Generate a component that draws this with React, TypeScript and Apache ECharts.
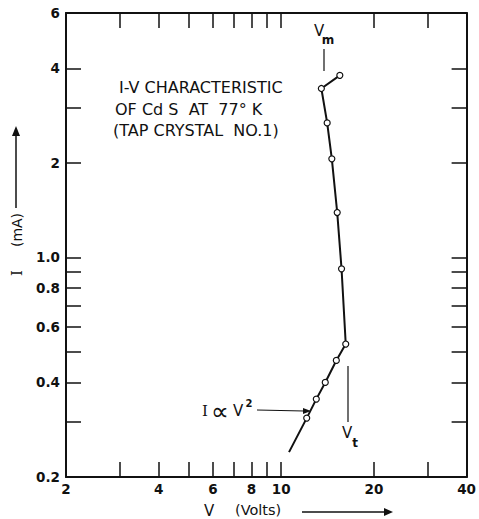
import React, { useEffect, useRef } from "react";
import * as echarts from "echarts";

const voltage = [15.5, 13.5, 14.1, 14.6, 15.2, 15.7, 16.2, 15.1, 13.9, 13.0, 12.1];
const current = [3.8, 3.45, 2.68, 2.06, 1.39, 0.92, 0.53, 0.47, 0.4, 0.354, 0.308];
const fitLineEnd = [10.6, 0.24];

const xTicks = [3, 4, 5, 6, 7, 8, 9, 10, 20, 30];
const xLabels = [2, 4, 6, 8, 10, 20, 40];
const yTicks = [0.3, 0.4, 0.5, 0.6, 0.7, 0.8, 0.9, 1, 2, 3, 4];
const yLabels = [0.2, 0.4, 0.6, 0.8, 1, 2, 4, 6];

const textLines = ["I-V CHARACTERISTIC", "OF Cd S  AT  77° K", "(TAP CRYSTAL  NO.1)"];

const FONT = "DejaVu Sans";
const INK = "#111";

export default function App() {
  const ref = useRef<HTMLDivElement>(null);
  useEffect(() => {
    if (!ref.current) return;
    const chart = echarts.init(ref.current, null, { renderer: "svg" });
    const labelStyle = { fontFamily: FONT, fontWeight: "bold" as const, fontSize: 13.5, color: INK };
    const axisCommon = (pos: string, ticks: number[], labels: number[] | null, min: number, max: number) => ({
      type: "log" as const,
      logBase: 10,
      min,
      max,
      position: pos,
      axisLine: { show: true, onZero: false, lineStyle: { color: INK, width: 2 } },
      axisTick: { show: true, inside: true, length: 15, customValues: ticks, lineStyle: { color: INK, width: 1.5 } },
      axisLabel: labels
        ? {
            show: true,
            customValues: labels,
            ...labelStyle,
            margin: pos === "bottom" ? 5 : 6,
            formatter: (v: number) => (Math.abs(v - 1) < 1e-9 ? "1.0" : String(v)),
          }
        : { show: false },
      splitLine: { show: false },
      minorTick: { show: false },
    });

    const seriesData: any[] = voltage.map((v, i) => [v, current[i]]);
    seriesData.push({ value: fitLineEnd, symbol: "none" });

    const txt = (x: number, y: number, text: string, font: string, align = "center", rotation = 0) => ({
      type: "text",
      x,
      y,
      rotation,
      style: { text, font, fill: INK, align, verticalAlign: "middle" },
    });

    const g: any[] = [];
    textLines.forEach((t, i) => {
      g.push(txt([119, 115, 113][i], [87, 109, 130][i], t, `16px "${FONT}"`, "left"));
    });
    // Vm marker
    g.push({ type: "line", shape: { x1: 324, y1: 49, x2: 324, y2: 71 }, style: { stroke: INK, lineWidth: 1.2 } });
    g.push(txt(319, 31, "V", `15px "${FONT}"`));
    g.push(txt(328, 40, "m", `bold 12px "${FONT}"`));
    // Vt marker
    g.push({ type: "line", shape: { x1: 348, y1: 366, x2: 348, y2: 422 }, style: { stroke: INK, lineWidth: 1.2 } });
    g.push(txt(347, 433, "V", `15px "${FONT}"`));
    g.push(txt(355, 443, "t", `bold 12px "${FONT}"`));
    // I ∝ V^2
    g.push(txt(205, 411, "I", `15px "DejaVu Serif"`));
    g.push(txt(220, 411, "∝", `25px "${FONT}"`));
    g.push(txt(238, 411, "V", `15px "${FONT}"`));
    g.push(txt(249, 403, "2", `bold 10px "${FONT}"`));
    g.push({ type: "line", shape: { x1: 257, y1: 410, x2: 304, y2: 411 }, style: { stroke: INK, lineWidth: 1.2 } });
    g.push({ type: "polygon", shape: { points: [[311, 411], [303, 408], [303, 414]] }, style: { fill: INK } });
    // X axis name
    g.push(txt(209, 511, "V", `15px "${FONT}"`));
    g.push(txt(235, 510, "(Volts)", `14.5px "${FONT}"`, "left"));
    g.push({ type: "line", shape: { x1: 302, y1: 512, x2: 386, y2: 512 }, style: { stroke: INK, lineWidth: 1.5 } });
    g.push({ type: "polygon", shape: { points: [[393, 512], [384, 508], [384, 516]] }, style: { fill: INK } });
    // Y axis name
    g.push(txt(17, 273, "I", `15px "DejaVu Serif"`, "center", Math.PI / 2));
    g.push(txt(17, 230, "(mA)", `14px "${FONT}"`, "center", Math.PI / 2));
    g.push({ type: "line", shape: { x1: 16, y1: 208, x2: 16, y2: 134 }, style: { stroke: INK, lineWidth: 1.5 } });
    g.push({ type: "polygon", shape: { points: [[16, 126], [12, 136], [20, 136]] }, style: { fill: INK } });

    chart.setOption({
      animation: false,
      backgroundColor: "#fff",
      grid: { left: 66, right: 7, top: 13, bottom: 42, containLabel: false },
      xAxis: [axisCommon("bottom", xTicks, xLabels, 2, 40), axisCommon("top", xTicks, null, 2, 40)],
      yAxis: [axisCommon("left", yTicks, yLabels, 0.2, 6), axisCommon("right", yTicks, null, 0.2, 6)],
      series: [
        {
          type: "line",
          xAxisIndex: 0,
          yAxisIndex: 0,
          data: seriesData,
          symbol: "circle",
          symbolSize: 6,
          showSymbol: true,
          lineStyle: { color: INK, width: 2 },
          itemStyle: { color: "#fff", borderColor: INK, borderWidth: 1.2 },
          z: 5,
        },
      ],
      graphic: g,
    });
    return () => chart.dispose();
  }, []);
  return <div ref={ref} style={{ position: "fixed", left: 0, top: 0, width: 479, height: 519 }} />;
}
